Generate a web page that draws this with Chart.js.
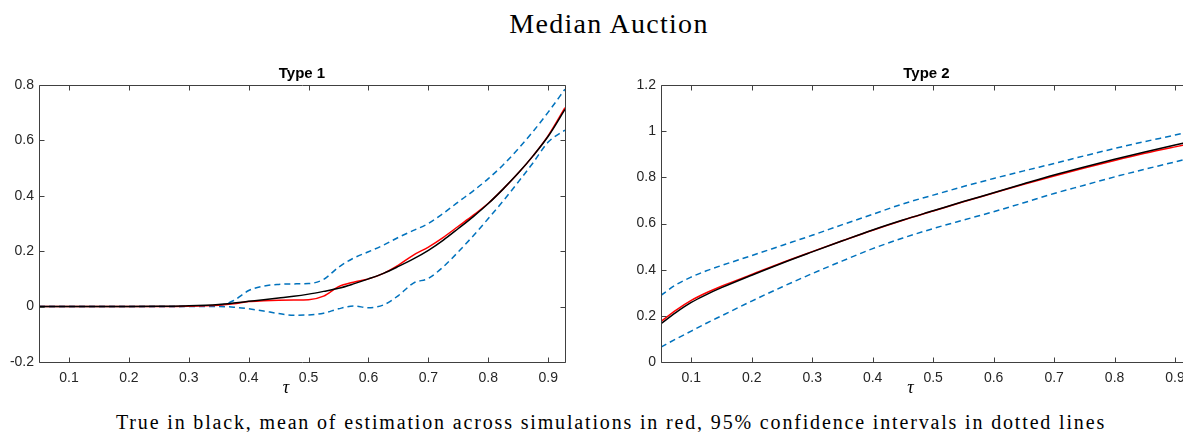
<!DOCTYPE html>
<html>
<head>
<meta charset="utf-8">
<script src="https://cdn.jsdelivr.net/npm/chart.js@4/dist/chart.umd.min.js"></script>
<style>
  html, body { margin: 0; padding: 0; background: #fff; width: 1183px; height: 432px; overflow: hidden; position: relative; }
  .wrap { position: absolute; }
  #mainTitle { position: absolute; left: 0; width: 1218px; top: 10px; text-align: center;
    font-family: "Liberation Serif", "DejaVu Serif", serif; font-size: 28px; line-height: 28px; color: #000; letter-spacing: 1.3px; white-space: nowrap; }
  #caption { position: absolute; left: 0; width: 1222px; top: 412px; text-align: center;
    font-family: "Liberation Serif", "DejaVu Serif", serif; font-size: 20px; line-height: 20px; color: #000; white-space: nowrap; }
</style>
</head>
<body>
<div id="mainTitle">Median Auction</div>
<div class="wrap" style="left:0px;top:60px;width:590px;height:340px;"><canvas id="c1" width="590" height="340"></canvas></div>
<div class="wrap" style="left:620px;top:60px;width:600px;height:340px;"><canvas id="c2" width="600" height="340"></canvas></div>
<div id="caption">True in black, mean of estimation across simulations in red, 95% confidence intervals in dotted lines</div>
<script>
// ---------- DATA ----------
const xTickLabels = [0.1, 0.2, 0.3, 0.4, 0.5, 0.6, 0.7, 0.8, 0.9];
const yTicksType1 = [-0.2, 0, 0.2, 0.4, 0.6, 0.8];
const yTicksType2 = [0, 0.2, 0.4, 0.6, 0.8, 1, 1.2];

// Type 1
const tau1 = [0.05, 0.1, 0.15, 0.2, 0.25, 0.3, 0.35, 0.375, 0.4, 0.425, 0.45, 0.475, 0.5, 0.525, 0.55, 0.575, 0.6, 0.625, 0.65, 0.675, 0.7, 0.725, 0.75, 0.775, 0.8, 0.825, 0.85, 0.875, 0.9, 0.928];
const true1 = [0, 0, 0, 0, 0.001, 0.003, 0.008, 0.013, 0.019, 0.025, 0.031, 0.037, 0.045, 0.055, 0.066, 0.082, 0.1, 0.12, 0.145, 0.172, 0.203, 0.24, 0.282, 0.325, 0.372, 0.425, 0.482, 0.545, 0.615, 0.712];
const mean1 = [0, 0, 0, 0, 0, 0.001, 0.005, 0.01, 0.018, 0.021, 0.023, 0.024, 0.025, 0.038, 0.072, 0.088, 0.1, 0.12, 0.15, 0.186, 0.215, 0.25, 0.29, 0.33, 0.373, 0.425, 0.482, 0.545, 0.617, 0.718];
const upper1 = [0, 0, 0, 0, 0, 0.001, 0.004, 0.022, 0.058, 0.074, 0.08, 0.082, 0.083, 0.098, 0.142, 0.175, 0.198, 0.222, 0.25, 0.275, 0.3, 0.337, 0.378, 0.418, 0.462, 0.512, 0.57, 0.633, 0.702, 0.785];
const lower1 = [0, 0, 0, 0, 0, 0, 0, -0.002, -0.008, -0.016, -0.025, -0.031, -0.03, -0.024, -0.008, 0.002, -0.004, 0.006, 0.04, 0.085, 0.102, 0.144, 0.198, 0.256, 0.318, 0.382, 0.45, 0.52, 0.594, 0.637];

// Type 2
const tau2 = [0.05, 0.075, 0.1, 0.125, 0.15, 0.2, 0.25, 0.3, 0.35, 0.4, 0.45, 0.5, 0.55, 0.6, 0.65, 0.7, 0.75, 0.8, 0.85, 0.9, 0.928];
const true2 = [0.166, 0.215, 0.258, 0.292, 0.322, 0.376, 0.428, 0.477, 0.525, 0.572, 0.615, 0.655, 0.695, 0.733, 0.772, 0.81, 0.845, 0.878, 0.91, 0.94, 0.956];
const mean2 = [0.176, 0.225, 0.267, 0.3, 0.328, 0.379, 0.43, 0.478, 0.525, 0.571, 0.614, 0.654, 0.694, 0.732, 0.77, 0.806, 0.84, 0.873, 0.904, 0.932, 0.947];
const upper2 = [0.289, 0.335, 0.368, 0.395, 0.418, 0.461, 0.505, 0.549, 0.595, 0.64, 0.685, 0.723, 0.76, 0.795, 0.828, 0.86, 0.893, 0.925, 0.955, 0.983, 1.0];
const lower2 = [0.065, 0.1, 0.134, 0.168, 0.2, 0.264, 0.325, 0.383, 0.438, 0.491, 0.537, 0.578, 0.615, 0.651, 0.69, 0.73, 0.766, 0.802, 0.835, 0.867, 0.885];

const xMin = 0.05, xMax = 0.928;

// ---------- STYLE ----------
const AXIS_COLOR = '#404040';
const TEXT_COLOR = '#262626';
const SANS = '"Liberation Sans", Arial, Helvetica, sans-serif';
const BLUE = '#0072BD';

// stretch caption to reference width (CM-like spacing)
(function () {
  const cap = document.getElementById('caption');
  const c = document.createElement('canvas').getContext('2d');
  c.font = '20px "Liberation Serif"';
  const txt = cap.textContent;
  const w = c.measureText(txt).width;
  const target = 990;
  const ls = (target - w) / txt.length;
  cap.style.letterSpacing = ls.toFixed(3) + 'px';
})();

function pts(xs, ys) { return xs.map((x, i) => ({ x: x, y: ys[i] })); }

function fmt(v) { return String(+Number(v).toFixed(1)); }

const boxPlugin = {
  id: 'boxTicks',
  afterDatasetsDraw(chart) {
    const { ctx, chartArea: a, scales } = chart;
    const L = 5;
    ctx.save();
    ctx.strokeStyle = AXIS_COLOR;
    ctx.lineWidth = 1;
    const l = Math.round(a.left) + 0.5, r = Math.round(a.right) + 0.5, t = Math.round(a.top) + 0.5, b = Math.round(a.bottom) + 0.5;
    ctx.beginPath();
    ctx.moveTo(l, t); ctx.lineTo(r, t); ctx.lineTo(r, b); ctx.lineTo(l, b); ctx.closePath();
    scales.x.ticks.forEach(tk => {
      const px = Math.round(scales.x.getPixelForValue(tk.value)) + 0.5;
      ctx.moveTo(px, b); ctx.lineTo(px, b - L);
      ctx.moveTo(px, t); ctx.lineTo(px, t + L);
    });
    scales.y.ticks.forEach(tk => {
      const py = Math.round(scales.y.getPixelForValue(tk.value)) + 0.5;
      ctx.moveTo(l, py); ctx.lineTo(l + L, py);
      ctx.moveTo(r, py); ctx.lineTo(r - L, py);
    });
    ctx.stroke();
    ctx.fillStyle = '#000';
    ctx.font = 'italic 18px "Liberation Serif", "DejaVu Serif", serif';
    ctx.textAlign = 'center';
    ctx.textBaseline = 'alphabetic';
    ctx.fillText('\u03C4', (a.left + a.right) / 2 - 16, a.bottom + 31);
    ctx.restore();
  }
};

function makeChart(id, title, tau, tr, mn, up, lo, yMin, yMax, yTicks, yAxisWidth, padRight) {
  return new Chart(document.getElementById(id), {
    type: 'line',
    data: {
      datasets: [
        { data: pts(tau, tr), borderColor: '#000000', borderWidth: 1.5, pointRadius: 0, cubicInterpolationMode: 'monotone' },
        { data: pts(tau, mn), borderColor: '#FF0000', borderWidth: 1.5, pointRadius: 0, cubicInterpolationMode: 'monotone' },
        { data: pts(tau, up), borderColor: BLUE, borderWidth: 1.5, borderDash: [6, 4], pointRadius: 0, cubicInterpolationMode: 'monotone' },
        { data: pts(tau, lo), borderColor: BLUE, borderWidth: 1.5, borderDash: [6, 4], pointRadius: 0, cubicInterpolationMode: 'monotone' }
      ]
    },
    options: {
      responsive: false,
      animation: false,
      layout: { padding: { left: 0, right: padRight, top: 0, bottom: 0 } },
      plugins: {
        legend: { display: false },
        tooltip: { enabled: false },
        title: {
          display: true, text: title, fullSize: false, color: '#000',
          font: { family: SANS, size: 15, weight: 'bold', lineHeight: 1.2 },
          padding: { top: 4.4, bottom: 2.6 }
        }
      },
      scales: {
        x: {
          type: 'linear', min: xMin, max: xMax,
          grid: { display: false, drawTicks: false },
          border: { display: false },
          afterBuildTicks: s => { s.ticks = xTickLabels.map(v => ({ value: v })); },
          afterFit: s => { s.height = 38; },
          ticks: { color: TEXT_COLOR, font: { family: SANS, size: 14 }, padding: 8, maxRotation: 0, autoSkip: false, callback: v => fmt(v) }
        },
        y: {
          type: 'linear', min: yMin, max: yMax,
          grid: { display: false, drawTicks: false },
          border: { display: false },
          afterBuildTicks: s => { s.ticks = yTicks.map(v => ({ value: v })); },
          afterFit: s => { s.width = yAxisWidth; },
          ticks: { color: TEXT_COLOR, font: { family: SANS, size: 14 }, padding: 5, autoSkip: false, callback: v => fmt(v) }
        }
      }
    },
    plugins: [boxPlugin]
  });
}

makeChart('c1', 'Type 1', tau1, true1, mean1, upper1, lower1, -0.2, 0.8, yTicksType1, 39, 25);
makeChart('c2', 'Type 2', tau2, true2, mean2, upper2, lower2, 0, 1.2, yTicksType2, 41, 28);
</script>
</body>
</html>
